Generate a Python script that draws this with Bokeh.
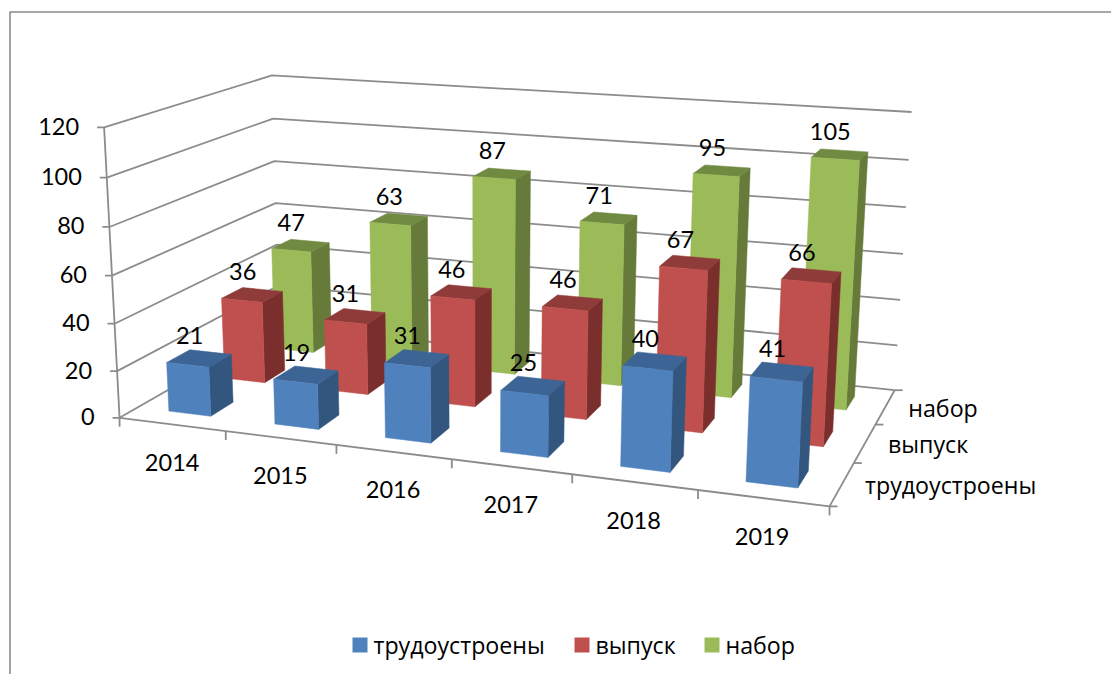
import numpy as np
from bokeh.plotting import figure
from bokeh.models import Range1d
from bokeh.core.properties import value
from bokeh.embed import file_html
from bokeh.resources import INLINE

categories = ["2014", "2015", "2016", "2017", "2018", "2019"]
series_names = ["трудоустроены", "выпуск", "набор"]
employed = [21, 19, 31, 25, 40, 41]
graduates = [36, 31, 46, 46, 67, 66]
intake = [47, 63, 87, 71, 95, 105]
value_ticks = [0, 20, 40, 60, 80, 100, 120]

series_values = [employed, graduates, intake]
front_colors = ["#4F81BD", "#C0504D", "#9BBB59"]
top_colors = ["#3C6595", "#8E3B39", "#718A42"]
side_colors = ["#33567F", "#7B2F2D", "#667B3A"]
AXIS = "#8C8C8C"
FONT = "Lato"
FS = "23.5px"
CFONT = "Open Sans"
CFS = "23.2px"

# Perspective camera: calibrated world (cat, row, value) -> page pixel
world = np.array([
    [0, 0, 0], [6, 0, 0], [0, 3, 0], [6, 3, 0],
    [0, 0, 120], [0, 3, 120], [6, 3, 120],
    [0, 3, 100], [6, 3, 100], [0, 3, 80], [6, 3, 80], [0, 3, 60], [6, 3, 60],
    [0, 0, 100], [0, 0, 60], [0, 0, 20], [6, 3, 40],
], float)
image = np.array([
    [119, 417], [829, 506], [278, 326], [894, 390],
    [103, 127], [272, 75], [911, 112],
    [273, 118], [908, 159], [274, 161], [905, 207], [275, 202], [903, 253],
    [105, 177], [113, 275], [117, 371], [900, 299],
], float)
A = []
b = []
for (X, Y, Z), (u, v) in zip(world, image):
    A.append([X, Y, Z, 1, 0, 0, 0, 0, -u * X, -u * Y, -u * Z])
    A.append([0, 0, 0, 0, X, Y, Z, 1, -v * X, -v * Y, -v * Z])
    b += [u, v]
P = np.append(np.linalg.lstsq(np.array(A), np.array(b), rcond=None)[0], 1).reshape(3, 4)


def proj(x, y, z):
    u, v, w = P @ np.array([x, y, z, 1.0])
    return u / w, v / w


def seg(p, q, **kw):
    p.line([q[0][0], q[1][0]], [q[0][1], q[1][1]], **kw)


p = figure(width=1111, height=674, x_range=Range1d(0, 1111), y_range=Range1d(674, 0),
           x_axis_type=None, y_axis_type=None, toolbar_location=None,
           output_backend="svg", min_border=0, outline_line_color=None)
p.grid.visible = False
p.background_fill_color = "white"
p.border_fill_color = "white"

line = dict(line_color=AXIS, line_width=1.8)
# chart frame
p.line([9.5, 9.5, 1111], [674, 11.5, 11.5], line_color="#8C8C8C", line_width=1.6)

# walls & gridlines
for t in value_ticks:
    a, b_, c = proj(0, 0, t), proj(0, 3, t), proj(6, 3, t)
    p.line([a[0] - 7, a[0], b_[0], c[0]], [a[1], a[1], b_[1], c[1]], **line)
seg(p, (proj(0, 0, 0), proj(0, 0, 120)), **line)
# floor
fl, fr, br = proj(0, 0, 0), proj(6, 0, 0), proj(6, 3, 0)
p.line([fl[0], fr[0], br[0]], [fl[1], fr[1], br[1]], **line)
for i in range(7):
    q = proj(i, 0, 0)
    p.line([q[0], q[0]], [q[1], q[1] + 9], **line)
for r in range(4):
    q = proj(6, r, 0)
    p.line([q[0], q[0] + 8], [q[1], q[1]], **line)

# bars back-to-front
W = 0.4
for r in (2, 1, 0):
    for i, val in enumerate(series_values[r]):
        x0, x1 = i + .5 - W / 2, i + .5 + W / 2
        y0, y1 = r + .5 - W / 2, r + .5 + W / 2
        faces = [
            ([(x1, y0, 0), (x1, y1, 0), (x1, y1, val), (x1, y0, val)], side_colors[r]),
            ([(x0, y0, val), (x1, y0, val), (x1, y1, val), (x0, y1, val)], top_colors[r]),
            ([(x0, y0, 0), (x1, y0, 0), (x1, y0, val), (x0, y0, val)], front_colors[r]),
        ]
        for pts, col in faces:
            q = [proj(*s) for s in pts]
            p.patch([s[0] for s in q], [s[1] for s in q], fill_color=col, line_color=col, line_width=0.5)

# data labels
for r in (2, 1, 0):
    for i, val in enumerate(series_values[r]):
        q = proj(i + .5, r + .5, val)
        p.text([q[0] - 9.5], [q[1] - 23], text=[str(val)], text_align="center", text_baseline="middle",
               text_font=value(FONT), text_font_size=FS, text_color="black")

# value labels
for t in value_ticks:
    q = proj(0, 0, t)
    p.text([q[0] - 25], [q[1] - 1], text=[str(t)], text_align="right", text_baseline="middle",
           text_font=value(FONT), text_font_size=FS, text_color="black")

# category labels
for i, c in enumerate(categories):
    q = proj(i + .5, 0, 0)
    p.text([q[0] - 0.2 * i], [q[1] + 38], text=[c], text_align="center", text_baseline="middle",
           text_font=value(FONT), text_font_size=FS, text_color="black")

# series labels on depth axis
for r, s in enumerate(series_names):
    q = proj(6, r + .5, 0)
    p.text([q[0] + 23], [q[1] + 1], text=[s], text_align="left", text_baseline="middle",
           text_font=value(CFONT), text_font_size=CFS, text_color="black")

# legend
lx = [352, 574, 704]
for x, s, col in zip(lx, series_names, front_colors):
    p.quad(left=[x], right=[x + 15], top=[637], bottom=[652], fill_color=col, line_color=None)
    p.text([x + 21], [644], text=[s], text_align="left", text_baseline="middle",
           text_font=value(CFONT), text_font_size=CFS, text_color="black")

open("out.html", "w").write(file_html(p, INLINE))
